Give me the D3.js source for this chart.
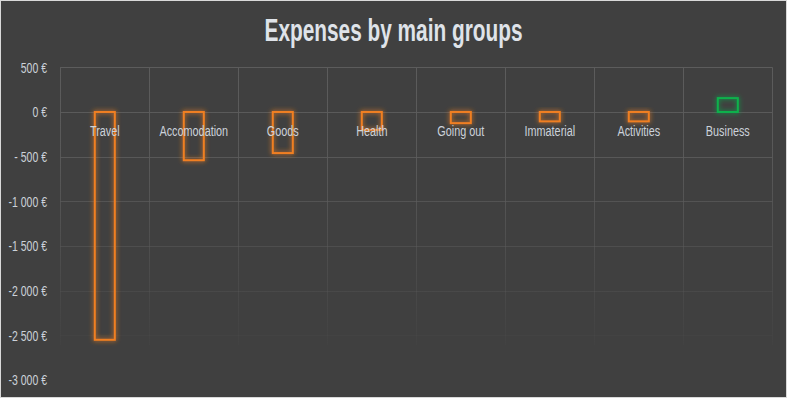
<!DOCTYPE html>
<html>
<head>
<meta charset="utf-8">
<script src="https://cdn.jsdelivr.net/npm/d3@7"></script>
<style>
  body { margin: 0; background: #fff; }
  svg text { font-family: "Liberation Sans", Arial, sans-serif; }
</style>
</head>
<body>
<div id="chart"></div>
<script>
/*------------------------------------------*/
/*            Data                          */
/*------------------------------------------*/

var categories = ["Travel", "Accomodation", "Goods", "Health", "Going out", "Immaterial", "Activities", "Business"];
var amounts = [-2550, -540, -460, -200, -125, -105, -105, 155];

var yTicks = [500, 0, -500, -1000, -1500, -2000, -2500, -3000],
    yTickLabels = ["500 €", "0 €", "- 500 €", "-1 000 €", "-1 500 €", "-2 000 €", "-2 500 €", "-3 000 €"];

var title = "Expenses by main groups";

/*------------------------------------------*/
/*            Constants                     */
/*------------------------------------------*/

var width = 787,
    height = 398;

var plot = { left: 60.3, right: 772.3, top: 67.3, bottom: 380 };

var bgColor = "#404040",
    gridColor = "#5c5c5c",
    textColor = "#ccd2da",
    negColor = "#f07f22",
    posColor = "#10b24c";

// the original font is a tall narrow one, squeeze a normal sans to match
var squeeze = 0.7;

/*------------------------------------------*/
/*            Initiate the SVG              */
/*------------------------------------------*/

var svg = d3.select("#chart").append("svg")
    .attr("width", width)
    .attr("height", height);

var defs = svg.append("defs");

// gridlines fade out towards the bottom
var grad = defs.append("linearGradient")
    .attr("id", "gridFade")
    .attr("gradientUnits", "userSpaceOnUse")
    .attr("x1", 0).attr("x2", 0)
    .attr("y1", plot.top).attr("y2", 350);
grad.append("stop").attr("offset", "0%").attr("stop-color", gridColor).attr("stop-opacity", 1);
grad.append("stop").attr("offset", "35%").attr("stop-color", gridColor).attr("stop-opacity", 0.85);
grad.append("stop").attr("offset", "100%").attr("stop-color", gridColor).attr("stop-opacity", 0.05);

// soft glow round the bars
var glow = defs.append("filter")
    .attr("id", "glow")
    .attr("x", "-50%").attr("y", "-50%")
    .attr("width", "200%").attr("height", "200%");
glow.append("feGaussianBlur").attr("in", "SourceGraphic").attr("stdDeviation", 2.6).attr("result", "blur");
var merge = glow.append("feMerge");
merge.append("feMergeNode").attr("in", "blur");
merge.append("feMergeNode").attr("in", "SourceGraphic");

svg.append("rect")
    .attr("x", 0.5).attr("y", 0.5)
    .attr("width", width - 1).attr("height", height - 1)
    .attr("fill", bgColor)
    .attr("stroke", "#d9d9d9");

/*------------------------------------------*/
/*            Scales                        */
/*------------------------------------------*/

var x = d3.scaleBand()
    .domain(categories)
    .range([plot.left, plot.right]);

var y = d3.scaleLinear()
    .domain([-3000, 500])
    .range([plot.bottom, plot.top]);

var barWidth = x.bandwidth() * 0.225;

/*------------------------------------------*/
/*            Title                         */
/*------------------------------------------*/

svg.append("text")
    .attr("x", width / 2)
    .attr("y", 41)
    .attr("text-anchor", "middle")
    .attr("font-size", "31px")
    .attr("font-weight", "bold")
    .attr("fill", "#dfe3e9")
    .attr("textLength", 258)
    .attr("lengthAdjust", "spacingAndGlyphs")
    .text(title);

/*------------------------------------------*/
/*            Gridlines                     */
/*------------------------------------------*/

var grid = svg.append("g").attr("stroke", "url(#gridFade)").attr("stroke-width", 1);

grid.selectAll("line.h")
    .data(yTicks.slice(0, -1))
    .enter().append("line")
    .attr("class", "h")
    .attr("x1", plot.left).attr("x2", plot.right)
    .attr("y1", function(d) { return Math.round(y(d)) + 0.5; })
    .attr("y2", function(d) { return Math.round(y(d)) + 0.5; });

var vx = categories.map(function(c) { return x(c); }).concat([plot.right]);

grid.selectAll("line.v")
    .data(vx)
    .enter().append("line")
    .attr("class", "v")
    .attr("x1", function(d) { return Math.round(d) + 0.5; })
    .attr("x2", function(d) { return Math.round(d) + 0.5; })
    .attr("y1", plot.top)
    .attr("y2", 345);

/*------------------------------------------*/
/*            Y axis labels                 */
/*------------------------------------------*/

var yAxis = d3.axisLeft(y)
    .tickValues(yTicks)
    .tickSize(0)
    .tickPadding(0)
    .tickFormat(function(d, i) { return yTickLabels[i]; });

var yg = svg.append("g")
    .attr("transform", "translate(" + 47 + ",0)")
    .call(yAxis);

yg.select(".domain").remove();
yg.selectAll("text")
    .attr("font-size", "15px")
    .attr("font-family", null)
    .attr("x", 0)
    .attr("transform", "scale(" + squeeze + ",1)")
    .attr("fill", textColor);

/*------------------------------------------*/
/*            Bars                          */
/*------------------------------------------*/

svg.append("g").selectAll("rect")
    .data(amounts)
    .enter().append("rect")
    .attr("x", function(d, i) { return x(categories[i]) + x.bandwidth() / 2 - barWidth / 2; })
    .attr("y", function(d) { return y(Math.max(0, d)); })
    .attr("width", barWidth)
    .attr("height", function(d) { return Math.abs(y(d) - y(0)); })
    .attr("fill", "none")
    .attr("stroke", function(d) { return d < 0 ? negColor : posColor; })
    .attr("stroke-width", 2)
    .attr("filter", "url(#glow)");

/*------------------------------------------*/
/*            Category labels               */
/*------------------------------------------*/

svg.append("g").selectAll("text")
    .data(categories)
    .enter().append("text")
    .attr("transform", function(d) {
      return "translate(" + (x(d) + x.bandwidth() / 2) + "," + (y(0) + 24.5) + ") scale(" + squeeze + ",1)";
    })
    .attr("text-anchor", "middle")
    .attr("font-size", "15.5px")
    .attr("fill", textColor)
    .text(function(d) { return d; });
</script>
</body>
</html>
